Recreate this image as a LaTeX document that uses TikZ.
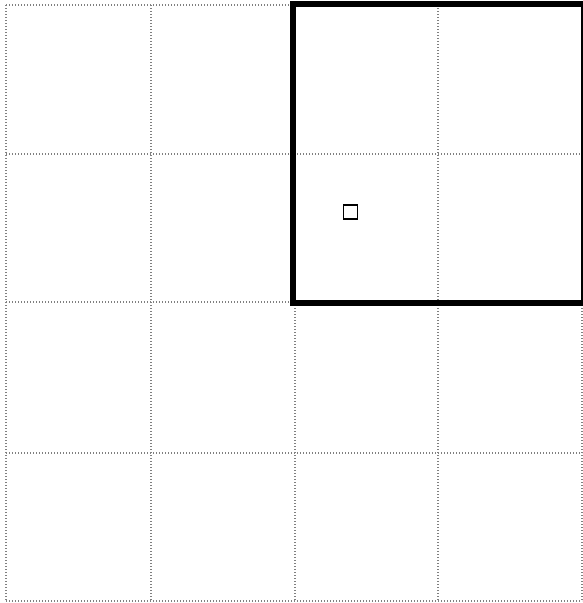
\documentclass[tikz,border=0pt]{standalone}
\begin{document}
\begin{tikzpicture}[x=1pt,y=-1pt,
  gridline/.style={draw=gray, line width=1.4pt, dash pattern=on 1.4pt off 1.6pt},
  bigbox/.style={draw=black, line width=6pt},
  smallbox/.style={draw=black, line width=1.8pt, minimum size=14pt, inner sep=0pt}]
\useasboundingbox (0,0) rectangle (583,603);
\foreach \x in {6,151,295,438,582} \draw[gridline] (\x,5) -- (\x,601);
\foreach \y in {5,154,302,453,601} \draw[gridline] (6,\y) -- (582,\y);
\draw[bigbox] (293,3.5) rectangle (584,302.5);
\node[smallbox] (marker) at (350.5,212) {};
\end{tikzpicture}
\end{document}
